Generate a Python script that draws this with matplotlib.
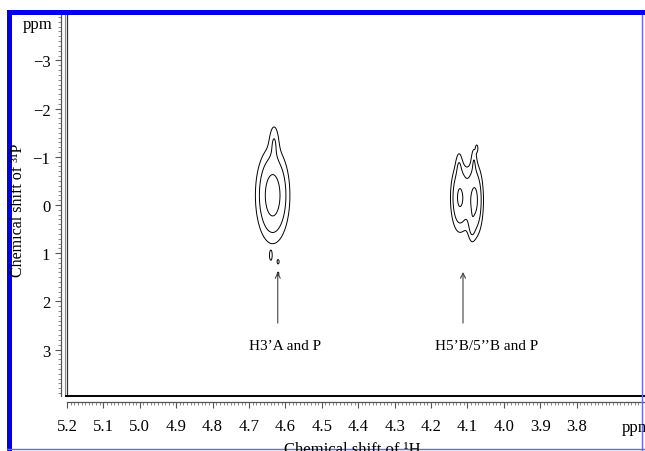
import numpy as np
import matplotlib
matplotlib.use("Agg")
import matplotlib.pyplot as plt
from matplotlib.lines import Line2D
from matplotlib.patches import Rectangle
from matplotlib.ticker import MultipleLocator, FixedLocator

plt.rcParams['font.family'] = ['Liberation Serif', 'DejaVu Serif']
plt.rcParams['mathtext.fontset'] = 'stix'

# ---- data ----
# cross peaks: 1H shift, 31P shift, sigma 1H, sigma 31P, amplitude
peak_h = [4.635, 4.631, 4.640, 4.620, 4.620, 4.121, 4.080, 4.123, 4.088, 4.074, 4.082]
peak_p = [-0.20, -1.35, 1.06, 1.18, 1.43, -0.15, -0.10, -0.85, 0.45, -1.18, -0.95]
peak_sh = [0.026, 0.009, 0.003, 0.003, 0.003, 0.015, 0.014, 0.006, 0.006, 0.0025, 0.005]
peak_sp = [0.55, 0.25, 0.08, 0.05, 0.05, 0.42, 0.45, 0.20, 0.20, 0.06, 0.20]
peak_amp = [1.0, 0.275, 0.25, 0.23, 0.23, 0.80, 0.85, 0.20, 0.22, 0.25, 0.22]
contour_levels = [0.19, 0.375, 0.74]

x_ticks = [5.2, 5.1, 5.0, 4.9, 4.8, 4.7, 4.6, 4.5, 4.4, 4.3, 4.2, 4.1, 4.0, 3.9, 3.8]
x_ticklabels = ['5.2', '5.1', '5.0', '4.9', '4.8', '4.7', '4.6', '4.5', '4.4', '4.3',
                '4.2', '4.1', '4.0', '3.9', '3.8']
y_ticks = [-3, -2, -1, 0, 1, 2, 3]
y_ticklabels = ['\u22123', '\u22122', '\u22121', '0', '1', '2', '3']

label_text = ["H3\u2019A and P", "H5\u2019B/5\u2019\u2019B and P"]
label_x = [4.600, 4.046]
label_y = [2.92, 2.92]
arrow_x = [4.621, 4.112]
arrow_tip_y = [1.39, 1.39]
arrow_tail_y = [2.45, 2.45]

x_limits = (5.2, 3.612)
y_limits = (3.963, -3.942)

# ---- figure ----
W, H = 645, 452
fig = plt.figure(figsize=(W / 100, H / 100), dpi=100)
fig.patch.set_facecolor('white')

def fx(px):
    return px / W

def fy(py):
    return (H - py) / H

ax = fig.add_axes([fx(67), fy(397), fx(645) - fx(67), fy(16) - fy(397)])
ax.set_xlim(*x_limits)
ax.set_ylim(*y_limits)
ax.set_facecolor('white')

# spectrum
gx = np.linspace(3.95, 4.80, 900)
gy = np.linspace(-2.2, 2.0, 900)
GX, GY = np.meshgrid(gx, gy)
Z = np.zeros_like(GX)
for h, p, sh, sp, a in zip(peak_h, peak_p, peak_sh, peak_sp, peak_amp):
    Z += a * np.exp(-((GX - h) ** 2) / (2 * sh ** 2) - ((GY - p) ** 2) / (2 * sp ** 2))
ax.contour(GX, GY, Z, levels=contour_levels, colors='black', linewidths=0.7)

# arrows and labels
for t, lx, ly, axx, tip, tail in zip(label_text, label_x, label_y, arrow_x, arrow_tip_y, arrow_tail_y):
    ax.annotate('', xy=(axx, tip), xytext=(axx, tail),
                arrowprops=dict(arrowstyle='->', lw=0.8, color='#444444',
                                shrinkA=0, shrinkB=0, mutation_scale=9))
    ax.text(lx, ly, t, ha='center', va='center', fontsize=11, color='black')

# spines / rulers
ax.spines['top'].set_visible(False)
ax.spines['right'].set_visible(False)
ax.spines['left'].set_position(('outward', 4.5))
ax.spines['bottom'].set_position(('outward', 4.0))
ax.spines['left'].set_color('#555555')
ax.spines['bottom'].set_color('#555555')
ax.spines['left'].set_linewidth(0.9)
ax.spines['bottom'].set_linewidth(0.9)

ax.xaxis.set_major_locator(FixedLocator(x_ticks))
ax.set_xticklabels(x_ticklabels)
ax.xaxis.set_minor_locator(MultipleLocator(0.01))
ax.yaxis.set_major_locator(FixedLocator(y_ticks))
ax.set_yticklabels(y_ticklabels)
ax.yaxis.set_minor_locator(MultipleLocator(0.1))
ax.tick_params(axis='both', which='major', direction='out', length=4, width=0.8,
               color='#555555', labelsize=12)
ax.tick_params(axis='both', which='minor', direction='out', length=2, width=0.6,
               color='#777777')
ax.tick_params(axis='x', which='major', pad=8)
ax.tick_params(axis='y', which='major', pad=3.5)

# plot frame (left double line, bottom line)
fig.add_artist(Line2D([fx(65), fx(65)], [fy(16), fy(397)], color='#888888', lw=0.8))
fig.add_artist(Line2D([fx(67), fx(67)], [fy(16), fy(397)], color='#333333', lw=0.9))
fig.add_artist(Line2D([fx(66), fx(645)], [fy(396.5), fy(396.5)], color='black', lw=1.4))

# axis texts
fig.text(fx(38), fy(25), 'ppm', ha='center', va='center', fontsize=12)
fig.text(fx(622), fy(428), 'ppm', ha='left', va='center', fontsize=12)
fig.text(fx(18), fy(210), 'Chemical shift of \u00b3\u00b9P', rotation=90,
         ha='center', va='center', fontsize=11.5)
fig.text(fx(352), fy(442), 'Chemical shift of \u00b9H', ha='center', va='top', fontsize=12)

# blue window border
fig.add_artist(Rectangle((fx(7), fy(16)), fx(645) - fx(7), fy(11) - fy(16),
                         transform=fig.transFigure, color='#0000ee', lw=0))
fig.add_artist(Rectangle((fx(7), 0), fx(12) - fx(7), fy(11),
                         transform=fig.transFigure, color='#0000ee', lw=0))
fig.add_artist(Line2D([fx(642), fx(642)], [0, fy(16)], color='#6666ee', lw=1.0))
fig.add_artist(Line2D([fx(7), fx(645)], [fy(449.5), fy(449.5)], color='#6666ee', lw=1.0))

fig.savefig('out.png', dpi=100, facecolor='white')
